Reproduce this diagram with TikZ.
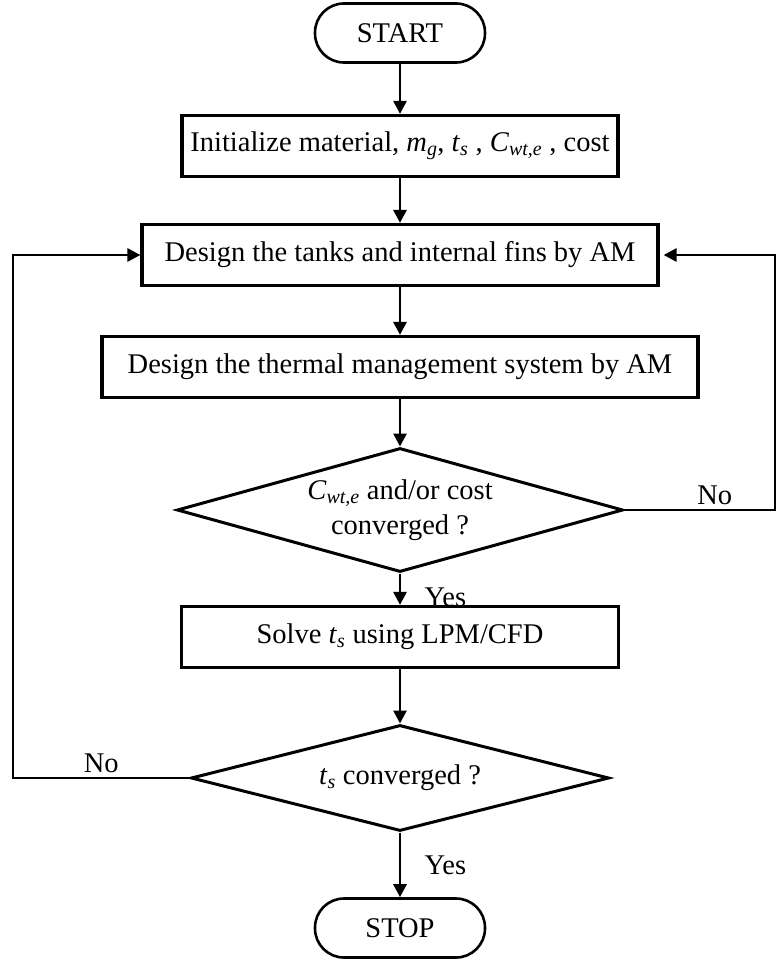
\documentclass[tikz,border=0pt]{standalone}
\usepackage{fontspec}
\setmainfont{Liberation Serif}
\usetikzlibrary{shapes.geometric,arrows.meta}
\newcommand{\varsub}[2]{\textit{#1}\textsubscript{\textit{#2}}}
\begin{document}
\begin{tikzpicture}[x=1pt,y=-1pt,
  font=\fontsize{28.5}{35}\selectfont,
  term/.style={draw,line width=2.6pt,rounded corners=29pt,minimum width=170pt,minimum height=59pt},
  proc/.style={draw,line width=3.2pt,minimum height=61pt,inner sep=0pt},
  decide/.style={draw,diamond,line width=3pt,inner sep=0pt},
  flow/.style={line width=2.8pt,-{Triangle[length=13pt,width=13pt]}}]
\useasboundingbox (0,0) rectangle (777,963);
\node[term] (start) at (400,33) {START};
\node[proc,minimum width=436pt] (init) at (400,146) {Initialize material, \varsub{m}{g}, \varsub{t}{s} , \varsub{C}{wt,e} , cost};
\node[proc,minimum width=516pt] (tanks) at (400,255) {Design the tanks and internal fins by AM};
\node[proc,minimum width=596pt] (thermal) at (400,367) {Design the thermal management system by AM};
\node[decide,minimum width=446pt,minimum height=124pt] (dec1) at (400,510) {};
\node[align=center] (dec1text) at (dec1) {\varsub{C}{wt,e} and/or cost\\converged ?};
\node[proc,minimum width=437pt] (solve) at (400,637) {Solve \varsub{t}{s} using LPM/CFD};
\node[decide,minimum width=418pt,minimum height=106pt] (dec2) at (400,778) {};
\node (dec2text) at (dec2) {\varsub{t}{s} converged ?};
\node[term] (stop) at (400,928) {STOP};
\coordinate (rightx) at (775,0);
\coordinate (leftx) at (13,0);
\draw[flow] (start) -- (init);
\draw[flow] (init) -- (tanks);
\draw[flow] (tanks) -- (thermal);
\draw[flow] (thermal) -- (dec1);
\draw[flow] (dec1) -- node[right,xshift=20pt,pos=0.75] {Yes} (solve);
\draw[flow] (solve) -- (dec2);
\draw[flow] (dec2) -- node[right,xshift=20pt] {Yes} (stop);
\draw[flow] (dec1.east) -- node[above,pos=0.6] {No} (dec1.east -| rightx) |- ([xshift=4pt]tanks.east);
\draw[flow] (dec2.west) -- node[above] {No} (dec2.west -| leftx) |- (tanks.west);
\end{tikzpicture}
\end{document}
